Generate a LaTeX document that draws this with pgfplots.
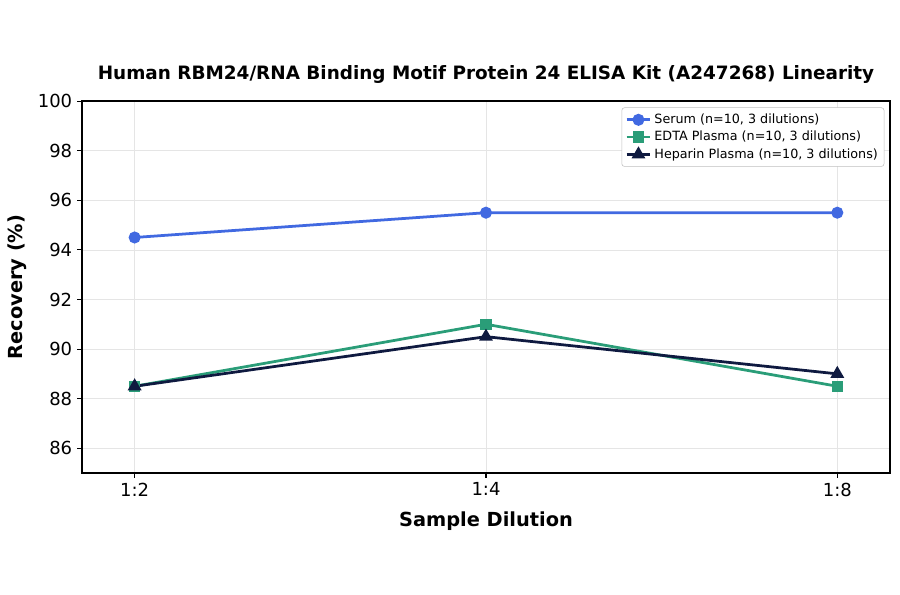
\documentclass[border=0pt]{standalone}
\usepackage{pgfplots}
\pgfplotsset{compat=1.18}
\usepackage{fontspec}
\setmainfont{DejaVu Sans}
\definecolor{serum}{HTML}{4169E1}
\definecolor{edta}{HTML}{2A9D78}
\definecolor{hep}{HTML}{0F1A40}
\begin{document}
\begin{tikzpicture}
\path[use as bounding box] (0,0) rectangle (648bp,427.7bp);
\begin{axis}[
  at={(59bp,87.1bp)}, anchor=south west,
  scale only axis, width=581.8bp, height=267.8bp,
  xmin=-0.15, xmax=2.15, ymin=85, ymax=100,
  xtick={0,1,2}, xticklabels={1:2,1:4,1:8},
  ytick={86,88,90,92,94,96,98,100},
  tick align=outside, tick pos=left,
  major tick length=3.5bp,
  every tick/.style={black, line width=0.8pt},
  axis line style={black, line width=1pt},
  grid=major, grid style={gray!20, line width=0.5pt},
  tick label style={font=\fontsize{13}{15}\selectfont},
  /pgf/number format/assume math mode=true,
  xlabel={\bfseries Sample Dilution},
  ylabel={\bfseries Recovery (\%)},
  label style={font=\fontsize{14}{16}\selectfont},
  xlabel style={yshift=-4.5bp},
  ylabel style={yshift=1.5bp},
  title={\bfseries Human RBM24/RNA Binding Motif Protein 24 ELISA Kit (A247268) Linearity},
  title style={font=\fontsize{13.3}{15}\selectfont, yshift=3.5bp},
  legend style={at={(0.993,0.983)}, anchor=north east, font=\fontsize{9.2}{11}\selectfont,
    draw=gray!50, rounded corners=2pt, inner sep=2.5pt, row sep=0pt,
    cells={anchor=west}},
  legend cell align=left,
]
\addplot[serum, line width=2pt, mark=*, mark size=3.3bp] coordinates {(0,94.5) (1,95.5) (2,95.5)};
\addlegendentry{Serum (n=10, 3 dilutions)}
\addplot[edta, line width=2pt, mark=square*, mark size=3.1bp] coordinates {(0,88.5) (1,91) (2,88.5)};
\addlegendentry{EDTA Plasma (n=10, 3 dilutions)}
\addplot[hep, line width=2pt, mark=triangle*, mark size=3.8bp] coordinates {(0,88.5) (1,90.5) (2,89)};
\addlegendentry{Heparin Plasma (n=10, 3 dilutions)}
\end{axis}
\end{tikzpicture}
\end{document}
